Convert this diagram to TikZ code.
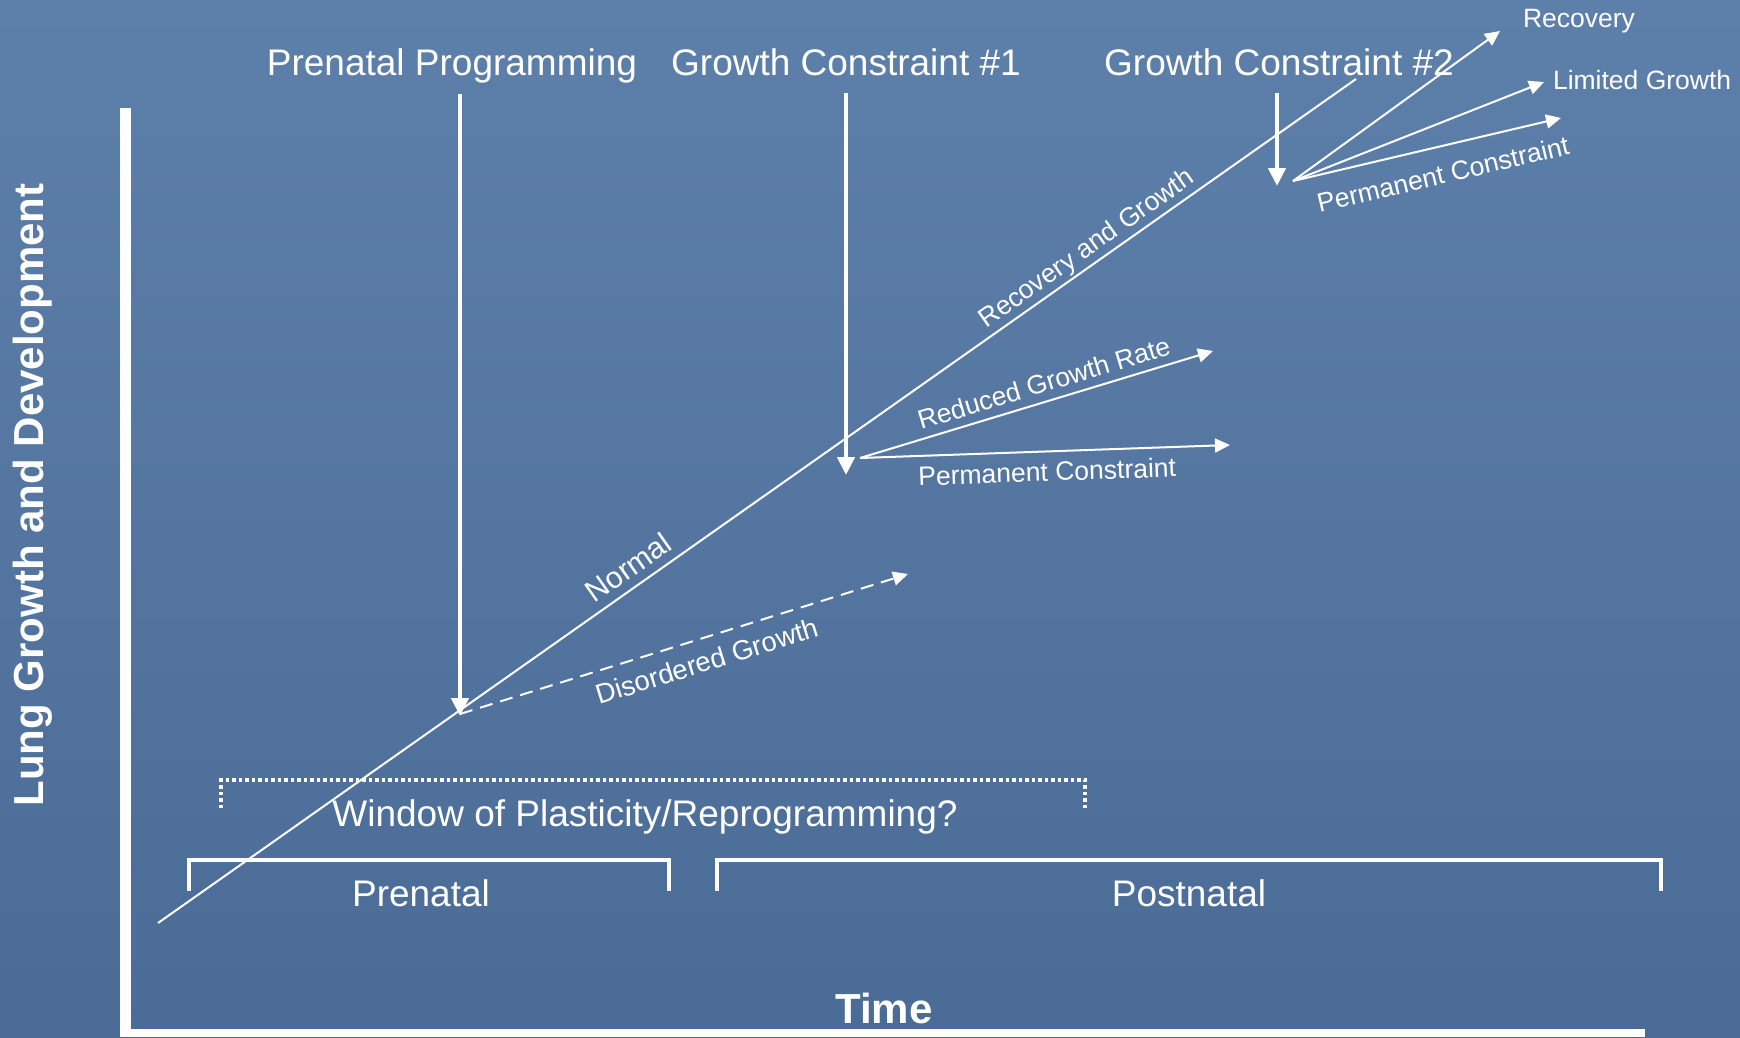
\documentclass[tikz,border=0pt]{standalone}
\usepackage{fontspec}
\setmainfont{Liberation Sans}
\usetikzlibrary{arrows.meta}

\definecolor{bgtop}{RGB}{93,128,170}
\definecolor{bgbot}{RGB}{74,107,149}

\begin{document}
\begin{tikzpicture}[
	x=1pt, y=-1pt,
	bigtxt/.style={text=white, font=\fontsize{37}{40}\selectfont, inner sep=2pt},
	smalltxt/.style={text=white, font=\fontsize{26.5}{29}\selectfont, inner sep=2pt},
	axistxt/.style={text=white, font=\bfseries\fontsize{42}{46}\selectfont, inner sep=2pt},
	trend/.style={white, line width=2pt},
	branch/.style={white, line width=2pt, -{Triangle[length=15pt,width=14pt]}},
	event/.style={white, line width=4.5pt, -{Triangle[length=18pt,width=17pt]}},
	bracket/.style={white, line width=3.5pt}
]
	% Background
	\shade[top color=bgtop, bottom color=bgbot] (0,0) rectangle (1740,1037);
	\useasboundingbox (0,0) rectangle (1740,1037);

	% Axes
	\fill[white] (120,108) rectangle (131,1037);
	\fill[white] (120,1029) rectangle (1645,1037);
	\node[axistxt] (time) at (884,1008) {Time};
	\node[axistxt, rotate=90] (lung) at (33,495) {Lung Growth and Development};

	% Events along the top
	\node[bigtxt, anchor=base] (pp) at (452,75) {Prenatal Programming};
	\node[bigtxt, anchor=base] (gc1) at (846,75) {Growth Constraint \#1};
	\node[bigtxt, anchor=base] (gc2) at (1279,75) {Growth Constraint \#2};
	\coordinate (ppend) at (460,716);
	\coordinate (gc1end) at (846,475);
	\coordinate (gc2end) at (1277,186);
	\draw[event, shorten <=9pt] (pp.south -| ppend) -- (ppend);
	\draw[event, shorten <=15pt] (gc1.south -| gc1end) -- (gc1end);
	\draw[event, shorten <=15pt] (gc2.south -| gc2end) -- (gc2end);

	% Normal growth line
	\coordinate (n0) at (158,923);
	\coordinate (n1) at (1356,79);
	\draw[trend] (n0)
		-- node[smalltxt, font=\fontsize{30}{32}\selectfont, sloped, above=6pt, pos=0.402] {Normal}
		   node[smalltxt, sloped, above, pos=0.783] {Recovery and Growth}
		(n1);

	% After prenatal programming
	\coordinate (d0) at (460,714);
	\coordinate (d1) at (908,574);
	\draw[branch, dashed, dash pattern=on 13pt off 8pt] (d0)
		-- node[smalltxt, font=\fontsize{27.5}{30}\selectfont, sloped, below=10pt, pos=0.536] {Disordered Growth}
		(d1);

	% After constraint #1
	\coordinate (c1) at (860,458);
	\coordinate (r1) at (1213,351);
	\coordinate (p1) at (1230,445);
	\draw[branch] (c1)
		-- node[smalltxt, sloped, above=6pt, pos=0.536] {Reduced Growth Rate} (r1);
	\draw[branch] (c1)
		-- node[smalltxt, sloped, below=7.5pt, pos=0.504] {Permanent Constraint} (p1);

	% After constraint #2
	\coordinate (c2) at (1293,181);
	\coordinate (rec) at (1500,31);
	\coordinate (lim) at (1544,82);
	\coordinate (p2) at (1561,118);
	\draw[branch] (c2) -- (rec)
		node[smalltxt, anchor=west, xshift=20pt, yshift=10pt] (reclbl) {Recovery};
	\draw[branch] (c2) -- (lim)
		node[smalltxt, anchor=west, xshift=6pt, yshift=2pt] (limlbl) {Limited Growth};
	\draw[branch] (c2)
		-- node[smalltxt, sloped, below=15pt, pos=0.536] {Permanent Constraint} (p2);

	% Time windows
	\draw[bracket, dash pattern=on 3.5pt off 3pt] (221,808) -- (221,780) -- (1085,780) -- (1085,808);
	\node[bigtxt] (window) at (645,817) {Window of Plasticity/Reprogramming?};
	\draw[bracket] (189,891) -- (189,860) -- (669,860) -- (669,891);
	\node[bigtxt] (prenatal) at (421,893) {Prenatal};
	\draw[bracket] (717,891) -- (717,860) -- (1661,860) -- (1661,891);
	\node[bigtxt] (postnatal) at (1189,893) {Postnatal};
\end{tikzpicture}
\end{document}
